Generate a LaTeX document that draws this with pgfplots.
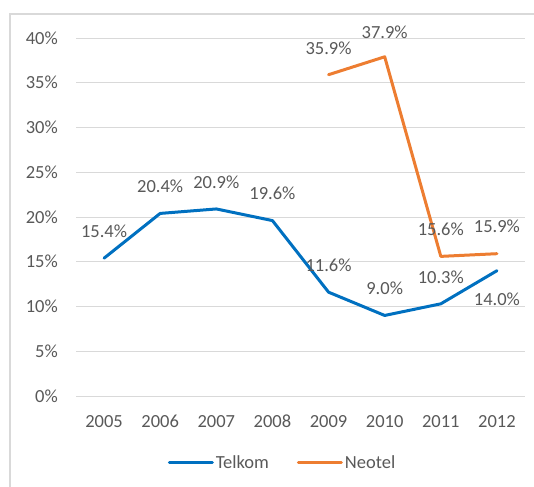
\documentclass[border=0pt]{standalone}
\usepackage{fontspec}
\setmainfont{Carlito}
\usepackage{pgfplots}
\usepackage{pgfplotstable}
\pgfplotsset{compat=1.18}
\definecolor{telkom}{HTML}{0070C0}
\definecolor{neotel}{HTML}{ED7D31}
\definecolor{txt}{HTML}{595959}
\definecolor{gridc}{HTML}{D9D9D9}
\newcommand{\lbl}{\fontsize{18.5bp}{22bp}\selectfont}

% x: 0 = 2005 ... 7 = 2012, dy = label offset
\pgfplotstableread{
x y dy
0 15.4 27
1 20.4 27
2 20.9 27
3 19.6 27
4 11.6 27
5 9.0 27
6 10.3 27
7 14.0 -29
}\telkom
\pgfplotstableread{
x y dy
4 35.9 26
5 37.9 25
6 15.6 27
7 15.9 27
}\neotel

\begin{document}
\begin{tikzpicture}
\begin{axis}[
  name=ax, at={(0,0)}, anchor=south west,
  scale only axis, width=449bp, height=358bp,
  xmin=-0.5, xmax=7.5, ymin=0, ymax=40,
  xtick={0,...,7},
  xticklabels={2005,2006,2007,2008,2009,2010,2011,2012},
  ytick={0,5,...,40},
  yticklabel={\pgfmathprintnumber{\tick}\%},
  /pgf/number format/assume math mode=true,
  axis line style={draw=none}, major tick length=0pt,
  ymajorgrids, grid style={gridc, line width=1bp},
  tick label style={font=\lbl, text=txt, inner sep=0pt},
  yticklabel style={xshift=-18bp},
  xticklabel style={yshift=-19bp},
  legend style={at={(0.46,-0.187)}, anchor=center, draw=none, fill=none,
    font=\lbl, text=txt, legend columns=2,
    /tikz/every even column/.append style={column sep=26bp}},
  legend image code/.code={\draw[#1] (0bp,0bp) -- (43bp,0bp);},
  every axis plot/.append style={line width=3bp, line join=round, line cap=round},
  nodes near coords={\pgfmathprintnumber[fixed,fixed zerofill,precision=1]{\pgfplotspointmeta}\%},
  point meta=y,
  visualization depends on={\thisrow{dy} \as \dy},
  nodes near coords style={font=\lbl, text=txt, anchor=center, inner sep=0pt,
    yshift={\dy*1bp}},
]
\addplot[telkom, mark=none] table[x=x, y=y] {\telkom};
\addlegendentry{Telkom}
\addplot[neotel, mark=none] table[x=x, y=y] {\neotel};
\addlegendentry{Neotel}
\end{axis}
\draw[gridc, line width=1.5bp] ([shift={(-66bp,-91bp)}]ax.south west)
  -- ([shift={(-66bp,382bp)}]ax.south west) -- ([shift={(458bp,382bp)}]ax.south west);
\pgfresetboundingbox
\useasboundingbox ([shift={(-76bp,-91bp)}]ax.south west) rectangle ([shift={(458bp,396bp)}]ax.south west);
\end{tikzpicture}
\end{document}
